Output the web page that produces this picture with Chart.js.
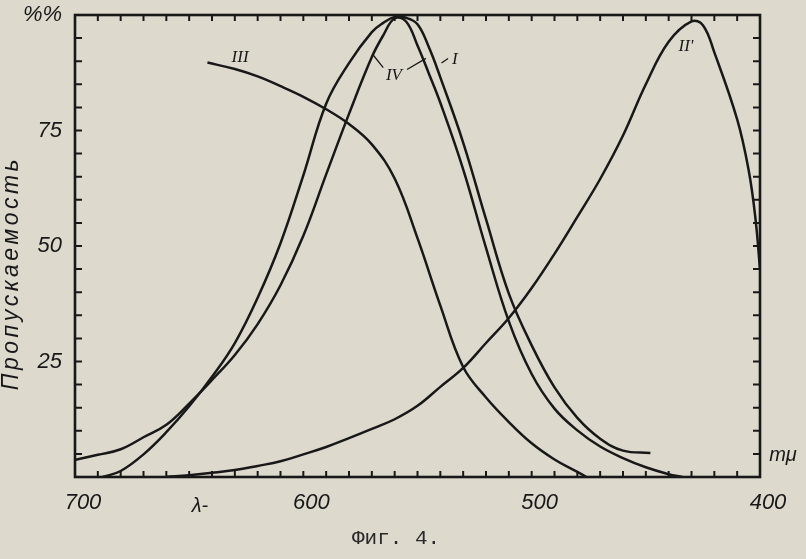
<!DOCTYPE html>
<html>
<head>
<meta charset="utf-8">
<script src="https://cdn.jsdelivr.net/npm/chart.js@4.4.1/dist/chart.umd.min.js"></script>
<style>
  html, body { margin: 0; padding: 0; background: #ddd9cd; }
  #wrap { width: 806px; height: 559px; }
</style>
</head>
<body>
<div id="wrap"><canvas id="fig4" width="806" height="559"></canvas></div>
<script>
// curve I (wide bell)
const wlI = [688, 680, 670, 660, 650, 640, 630, 620, 610, 600, 590, 580, 570, 565, 560, 555, 550, 545, 540, 530, 520, 510, 500, 490, 480, 470, 460, 448];
const valI = [0, 1.3, 4.9, 9.7, 15.3, 21.7, 29, 38.8, 50.6, 65.3, 80.8, 89.6, 96.3, 98.3, 99.6, 99.4, 98, 93, 86.5, 72.4, 55.8, 39.7, 28.5, 19.4, 12.8, 8.3, 5.7, 5.2];

// curve IV (narrow bell, long red tail)
const wlIV = [700, 690, 680, 670, 660, 650, 640, 630, 620, 610, 600, 590, 580, 570, 565, 560, 555, 550, 545, 540, 530, 520, 510, 500, 490, 480, 470, 460, 450, 440, 434];
const valIV = [3.7, 4.8, 6, 8.6, 11.3, 15.9, 21, 26.4, 33.1, 41.5, 52.2, 65.5, 78.6, 90.9, 95.6, 99.3, 98.6, 93.4, 87.3, 81, 66.6, 49.6, 33.7, 22.3, 14.8, 10.1, 6.6, 4.1, 2.1, 0.6, 0];

// curve III
const wlIII = [642, 630, 620, 610, 600, 590, 580, 570, 560, 550, 540, 530, 520, 510, 500, 490, 480, 476];
const valIII = [89.7, 88.3, 86.7, 84.6, 82.3, 79.6, 76.4, 72, 64.6, 51.7, 37.1, 23.8, 17.2, 11.9, 7.3, 3.8, 1.1, 0];

// curve II'
const wlII = [660, 650, 640, 630, 620, 610, 600, 590, 580, 570, 560, 550, 540, 530, 520, 510, 500, 490, 480, 470, 460, 450, 440, 430, 425, 420, 410, 405, 402, 400];
const valII = [0, 0.4, 0.9, 1.5, 2.4, 3.4, 4.9, 6.5, 8.4, 10.4, 12.5, 15.4, 19.5, 23.6, 29, 34.4, 40.9, 48.3, 56.3, 64.5, 73.9, 85, 94.2, 98.6, 97.8, 91.9, 77.4, 66.5, 56, 45];

// axis labels
const xLabels = [700, 600, 500, 400];
const yLabels = [25, 50, 75];
const yTopLabel = '%%';

const ink = '#181818';
const paperColor = '#ddd9cd';

function pts(wl, vals) {
  return wl.map((w, i) => ({ x: w, y: vals[i] }));
}

function curve(label, wl, vals) {
  return {
    label: label,
    data: pts(wl, vals),
    showLine: true,
    borderColor: ink,
    borderWidth: 2.5,
    pointRadius: 0,
    tension: 0.4,
    fill: false
  };
}

// paper background
const paper = {
  id: 'paper',
  beforeDraw(chart) {
    const ctx = chart.ctx;
    ctx.save();
    ctx.fillStyle = paperColor;
    ctx.fillRect(0, 0, chart.width, chart.height);
    ctx.restore();
  }
};

// frame with inward ticks on all four sides
const frame = {
  id: 'frame',
  afterDatasetsDraw(chart) {
    const ctx = chart.ctx;
    const a = chart.chartArea;
    const xs = chart.scales.x;
    const ys = chart.scales.y;
    ctx.save();
    ctx.strokeStyle = ink;
    ctx.lineWidth = 2.6;
    ctx.strokeRect(a.left, a.top, a.right - a.left, a.bottom - a.top);
    ctx.lineWidth = 2;
    ctx.beginPath();
    for (let w = 410; w < 700; w += 10) {
      const px = xs.getPixelForValue(w);
      ctx.moveTo(px, a.bottom); ctx.lineTo(px, a.bottom - 6);
      ctx.moveTo(px, a.top); ctx.lineTo(px, a.top + 6);
    }
    for (let v = 5; v < 100; v += 5) {
      const py = ys.getPixelForValue(v);
      ctx.moveTo(a.left, py); ctx.lineTo(a.left + 7, py);
      ctx.moveTo(a.right, py); ctx.lineTo(a.right - 7, py);
    }
    ctx.stroke();
    ctx.restore();
  }
};

// text and leader lines that sit on the figure
const notes = {
  id: 'notes',
  afterDraw(chart) {
    const ctx = chart.ctx;
    const xs = chart.scales.x;
    const ys = chart.scales.y;
    const X = w => xs.getPixelForValue(w);
    const Y = v => ys.getPixelForValue(v);
    ctx.save();
    ctx.fillStyle = ink;
    ctx.strokeStyle = ink;
    ctx.textAlign = 'center';
    ctx.textBaseline = 'middle';

    // curve names
    ctx.font = 'italic 17px "Liberation Serif"';
    ctx.fillText('III', X(627.7), Y(90.7));
    ctx.fillText('IV', X(560.3), Y(86.9));
    ctx.fillText('I', X(533.6), Y(90.4));
    ctx.fillText("II'", X(432.4), Y(93.2));

    // leader lines
    ctx.lineWidth = 1.3;
    ctx.beginPath();
    ctx.moveTo(X(565), Y(88.6)); ctx.lineTo(X(569.5), Y(91.4));
    ctx.moveTo(X(554.6), Y(88.2)); ctx.lineTo(X(546.3), Y(90.6));
    ctx.moveTo(X(539.5), Y(89.6)); ctx.lineTo(X(536.6), Y(90.6));
    ctx.stroke();

    // axis notes
    ctx.font = 'italic 20px "Liberation Sans"';
    ctx.fillText('λ-', 200, 506);
    ctx.fillText('mμ', 783, 455);

    // y title
    ctx.save();
    ctx.translate(12, 273);
    ctx.rotate(-Math.PI / 2);
    ctx.font = 'italic 23px "Liberation Sans"';
    ctx.letterSpacing = '3.5px';
    ctx.fillText('Пропускаемость', 0, 0);
    ctx.restore();

    // caption
    ctx.font = '21px "Liberation Mono"';
    ctx.fillStyle = '#2a2a2a';
    ctx.textAlign = 'left';
    ctx.fillText('Фиг. 4.', 352, 538);
    ctx.restore();
  }
};

const tickFont = { family: 'Liberation Sans', size: 22, style: 'italic' };

new Chart(document.getElementById('fig4'), {
  type: 'scatter',
  data: {
    datasets: [
      curve('I', wlI, valI),
      curve('IV', wlIV, valIV),
      curve('III', wlIII, valIII),
      curve("II'", wlII, valII)
    ]
  },
  options: {
    responsive: false,
    animation: false,
    layout: { padding: { top: 15, right: 46, left: 0, bottom: 0 } },
    plugins: {
      legend: { display: false },
      tooltip: { enabled: false }
    },
    scales: {
      x: {
        type: 'linear',
        min: 400,
        max: 700,
        reverse: true,
        grid: { display: false, drawTicks: false },
        border: { display: false },
        ticks: {
          stepSize: 10,
          autoSkip: false,
          maxRotation: 0,
          padding: 13,
          labelOffset: 8,
          color: ink,
          font: tickFont,
          callback: v => xLabels.includes(v) ? String(v) : ''
        },
        afterFit: s => { s.height = 82; s.paddingLeft = 0; s.paddingRight = 0; }
      },
      y: {
        min: 0,
        max: 100,
        grid: { display: false, drawTicks: false },
        border: { display: false },
        ticks: {
          stepSize: 5,
          autoSkip: false,
          padding: 13,
          color: ink,
          font: tickFont,
          callback: v => v === 100 ? yTopLabel : (yLabels.includes(v) ? String(v) : '')
        },
        afterFit: s => { s.width = 75; s.paddingTop = 0; s.paddingBottom = 0; }
      }
    }
  },
  plugins: [paper, frame, notes]
});
</script>
</body>
</html>
